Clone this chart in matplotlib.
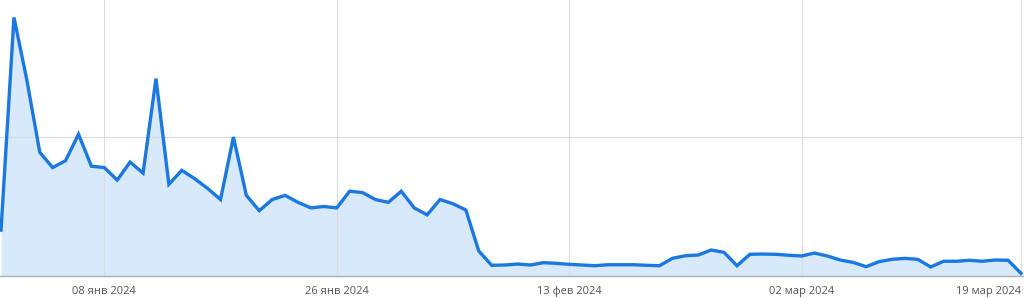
import numpy as np
import pandas as pd
import matplotlib
matplotlib.use("Agg")
import matplotlib.pyplot as plt
import matplotlib.dates as mdates

# daily values, 31 Dec 2023 .. 19 Mar 2024
dates = pd.date_range("2023-12-31", "2024-03-19", freq="D")
values = [33, 186, 141, 89, 78, 83, 102, 79, 78, 69,
          82, 74, 142, 66, 76, 70, 63, 55, 100, 58,
          47, 55, 58, 53, 49, 50, 49, 61, 60, 55,
          53, 61, 49, 44, 55, 52, 47.5, 18, 7.7, 7.9,
          8.6, 7.9, 9.6, 9.1, 8.4, 7.9, 7.4, 8.1, 8.1, 8.1,
          7.7, 7.4, 12.7, 14.6, 15.1, 18.7, 17, 7.4, 15.6, 15.8,
          15.6, 14.9, 14.4, 16.5, 14.4, 11.5, 9.8, 6.7, 10.3, 12,
          12.7, 12, 6.5, 10.6, 10.6, 11.3, 10.6, 11.5, 11.3, 1.9]

tick_dates = ["2024-01-08", "2024-01-26", "2024-02-13", "2024-03-02", "2024-03-19"]
tick_labels = ["08 янв 2024", "26 янв 2024", "13 фев 2024", "02 мар 2024", "19 мар 2024"]

line_color = "#1a78e0"
fill_color = "#d8e9fb"

fig = plt.figure(figsize=(10.24, 2.98), dpi=100)
ax = fig.add_axes([0, 22 / 298, 1, 278 / 298])

x = mdates.date2num(dates)
ax.fill_between(x, values, 0, color=fill_color, lw=0, zorder=1)
ax.plot(x, values, color=line_color, lw=2.4, solid_joinstyle="miter", zorder=3)

ax.set_xlim(x[0] - 0.08, x[-1] + 0.23)
ax.set_ylim(0, 200)

ax.set_xticks(mdates.date2num(pd.to_datetime(tick_dates)))
ax.set_xticklabels(tick_labels, fontsize=8, color="#555555", family="Open Sans")
ax.get_xticklabels()[-1].set_horizontalalignment("right")
ax.set_yticks([0, 100, 200])
ax.set_yticklabels([])
ax.tick_params(axis="both", length=0, pad=7)
ax.grid(True, color="#dcdcdc", lw=0.8, zorder=0)

for side in ["top", "left", "right"]:
    ax.spines[side].set_visible(False)
ax.spines["bottom"].set_color("#a8b0b8")
ax.spines["bottom"].set_linewidth(1.0)
ax.spines["bottom"].set_zorder(4)

fig.savefig("out.png", dpi=100)
